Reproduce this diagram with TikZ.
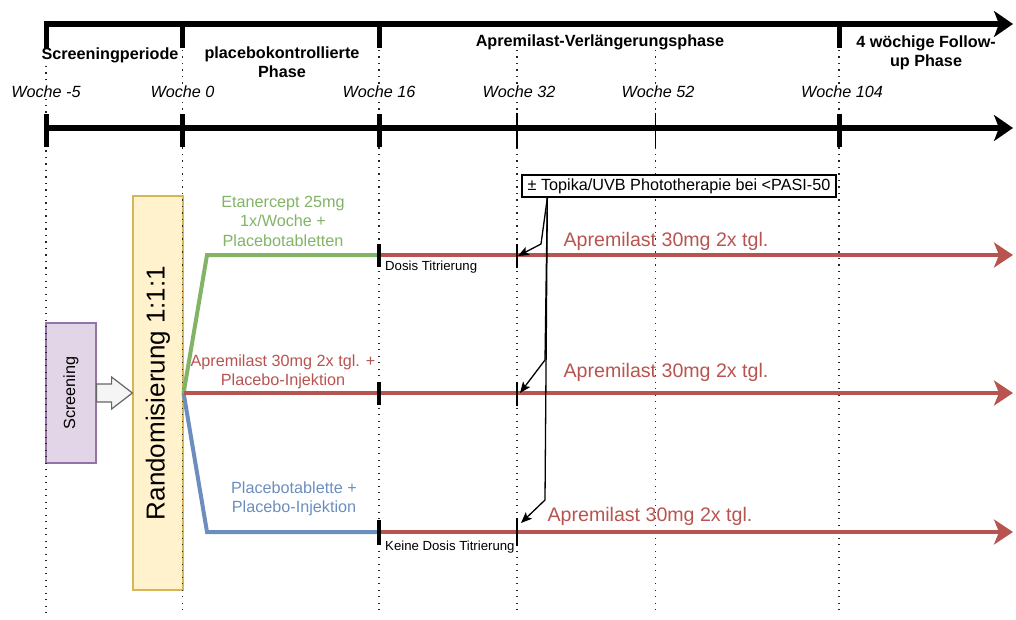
\documentclass[tikz,border=0pt]{standalone}
\usepackage{fontspec}
\setmainfont{Liberation Sans}
\usepackage{graphicx}
\usetikzlibrary{arrows.meta,calc}
\definecolor{armgreen}{HTML}{82B366}
\definecolor{armred}{HTML}{B85450}
\definecolor{armblue}{HTML}{6C8EBF}
\definecolor{scrfill}{HTML}{E1D5E7}
\definecolor{scrdraw}{HTML}{9673A6}
\definecolor{randfill}{HTML}{FFF2CC}
\definecolor{randdraw}{HTML}{D6B656}
\definecolor{blockfill}{HTML}{F5F5F5}
\definecolor{blockdraw}{HTML}{666666}

\begin{document}
\begin{tikzpicture}[x=1pt,y=-1pt,
  txt/.style={inner sep=0pt, align=center, font=\fontsize{16.2}{19.5}\selectfont},
  phase/.style={inner sep=0pt, align=center, font=\fontsize{16.2}{19.5}\selectfont\bfseries},
  week/.style={inner sep=1.5pt, fill=white, font=\fontsize{16.2}{19.5}\selectfont\itshape},
  dosis/.style={inner sep=0pt, font=\fontsize{13.2}{15}\selectfont},
  armtext/.style={inner sep=0pt, text=armred, font=\fontsize{19.6}{23}\selectfont},
  axisline/.style={line width=6pt, -{Stealth[length=19pt,width=26pt,inset=5pt]}},
  guide/.style={line width=1.3pt, dash pattern=on 1.3pt off 5.2pt, black!85},
  bigtick/.style={line width=5pt},
  armtick/.style={line width=3.5pt},
  thintick/.style={line width=1.5pt},
  arm/.style={line width=4pt},
  aparrow/.style={line width=4.5pt, draw=armred, -{Stealth[length=19pt,width=25pt,inset=5pt]}},
  callout/.style={line width=1.3pt, -{Stealth[length=11pt,width=9pt,inset=2.5pt]}},
  scrbox/.style={draw=scrdraw, fill=scrfill, line width=1.2pt, minimum width=50pt, minimum height=140pt, inner sep=0pt, font=\fontsize{16.2}{19.5}\selectfont},
  randbox/.style={draw=randdraw, fill=randfill, line width=1.2pt, minimum width=50pt, minimum height=394pt, inner sep=0pt, font=\fontsize{26}{30}\selectfont},
  topbox/.style={draw, fill=white, line width=1.3pt, minimum width=314pt, minimum height=22pt, inner sep=0pt, font=\fontsize{16.2}{19.5}\selectfont},
  blockarr/.style={draw=blockdraw, fill=blockfill, line width=1.2pt, line join=miter}
]
\useasboundingbox (0,0) rectangle (1016,620);

% screening and randomisation boxes
\node[scrbox] (scr) at (71,393) {\rotatebox{90}{Screening}};
\node[randbox] (rand) at (158,393) {\rotatebox{90}{Randomisierung 1:1:1}};

% dotted week guides
\draw[guide] (46,66) -- (46,615);
\foreach \x in {182.5,379,517,655.5,839}
  \draw[guide] (\x,50) -- (\x,615);

% top timeline with phase boundaries
\draw[axisline] (43.5,24) -- (1013,24);
\foreach \x in {46,182.5,379,839}
  \draw[bigtick] (\x,21) -- (\x,48);

% week axis
\draw[axisline] (43.5,128) -- (1013,128);
\foreach \x in {46,182.5,379,839}
  \draw[bigtick] (\x,114) -- (\x,147);
\foreach \x in {517,655.5}
  \draw[thintick] (\x,113) -- (\x,148);

% phase titles
\node[phase] at (110,55) {Screeningperiode};
\node[phase] at (282,62) {placebokontrollierte\\Phase};
\node[phase] at (600,42) {Apremilast-Verlängerungsphase};
\node[phase] at (926,53) {4 wöchige Follow-\\up Phase};

% week labels
\node[week] at (46,92) {Woche -5};
\node[week] at (182.5,92) {Woche 0};
\node[week] at (379,92) {Woche 16};
\node[week] at (519,92) {Woche 32};
\node[week] at (658,92) {Woche 52};
\node[week] at (842,92) {Woche 104};

% block arrow from screening to randomisation
\draw[blockarr] ($(scr.east)+(0,-9)$) -- ($(scr.east)+(15,-9)$) -- ($(scr.east)+(15,-16)$)
  -- (rand.west) -- ($(scr.east)+(15,16)$) -- ($(scr.east)+(15,9)$) -- ($(scr.east)+(0,9)$) -- cycle;

% treatment arms
\coordinate (g1) at (207,255);
\coordinate (g2) at (379,255);
\coordinate (r2) at (379,393);
\coordinate (b1) at (207,532);
\coordinate (b2) at (379,532);
\coordinate (e1) at (1013,255);
\coordinate (e2) at (1013,393);
\coordinate (e3) at (1013,532);

\draw[arm, armgreen] (rand.east) -- (g1) -- (g2);
\draw[arm, armblue] (rand.east) -- (b1) -- (b2);
\draw[arm, armred] (rand.east) -- (r2);
\draw[aparrow] (g2) -- (e1);
\draw[aparrow] (r2) -- (e2);
\draw[aparrow] (b2) -- (e3);

% arm ticks at week 16 and week 32
\draw[armtick] (379,244) -- (379,267);
\draw[armtick] (379,382) -- (379,405);
\draw[armtick] (379,520) -- (379,545);
\draw[thintick] (517,244) -- (517,268);
\draw[thintick] (517,382) -- (517,406);
\draw[thintick] (517,518) -- (517,546);

% arm labels
\node[txt, text=armgreen] at (283,221) {Etanercept 25mg\\1x/Woche +\\Placebotabletten};
\node[txt, text=armred] at (283,372) {Apremilast 30mg 2x tgl. +\\Placebo-Injektion};
\node[txt, text=armblue] at (294,499) {Placebotablette +\\Placebo-Injektion};

\node[armtext] at (666,241) {Apremilast 30mg 2x tgl.};
\node[armtext] at (666,372) {Apremilast 30mg 2x tgl.};
\node[armtext] at (650,516) {Apremilast 30mg 2x tgl.};

\node[dosis, anchor=west] at (385,267) {Dosis Titrierung};
\node[dosis, anchor=west] at (385,547) {Keine Dosis Titrierung};

% rescue therapy note
\node[topbox] (topika) at (679,186) {± Topika/UVB Phototherapie bei <PASI-50};
\coordinate (src) at ($(topika.south west)+(26,0)$);
\coordinate (t1) at (518,256);
\coordinate (t2) at (520,393);
\coordinate (t3) at (521,523);
\draw[callout] (src) -- (541,244) -- (t1);
\draw[callout] (src) -- (545,360) -- (t2);
\draw[callout] (src) -- (545,500) -- (t3);
\end{tikzpicture}
\end{document}
